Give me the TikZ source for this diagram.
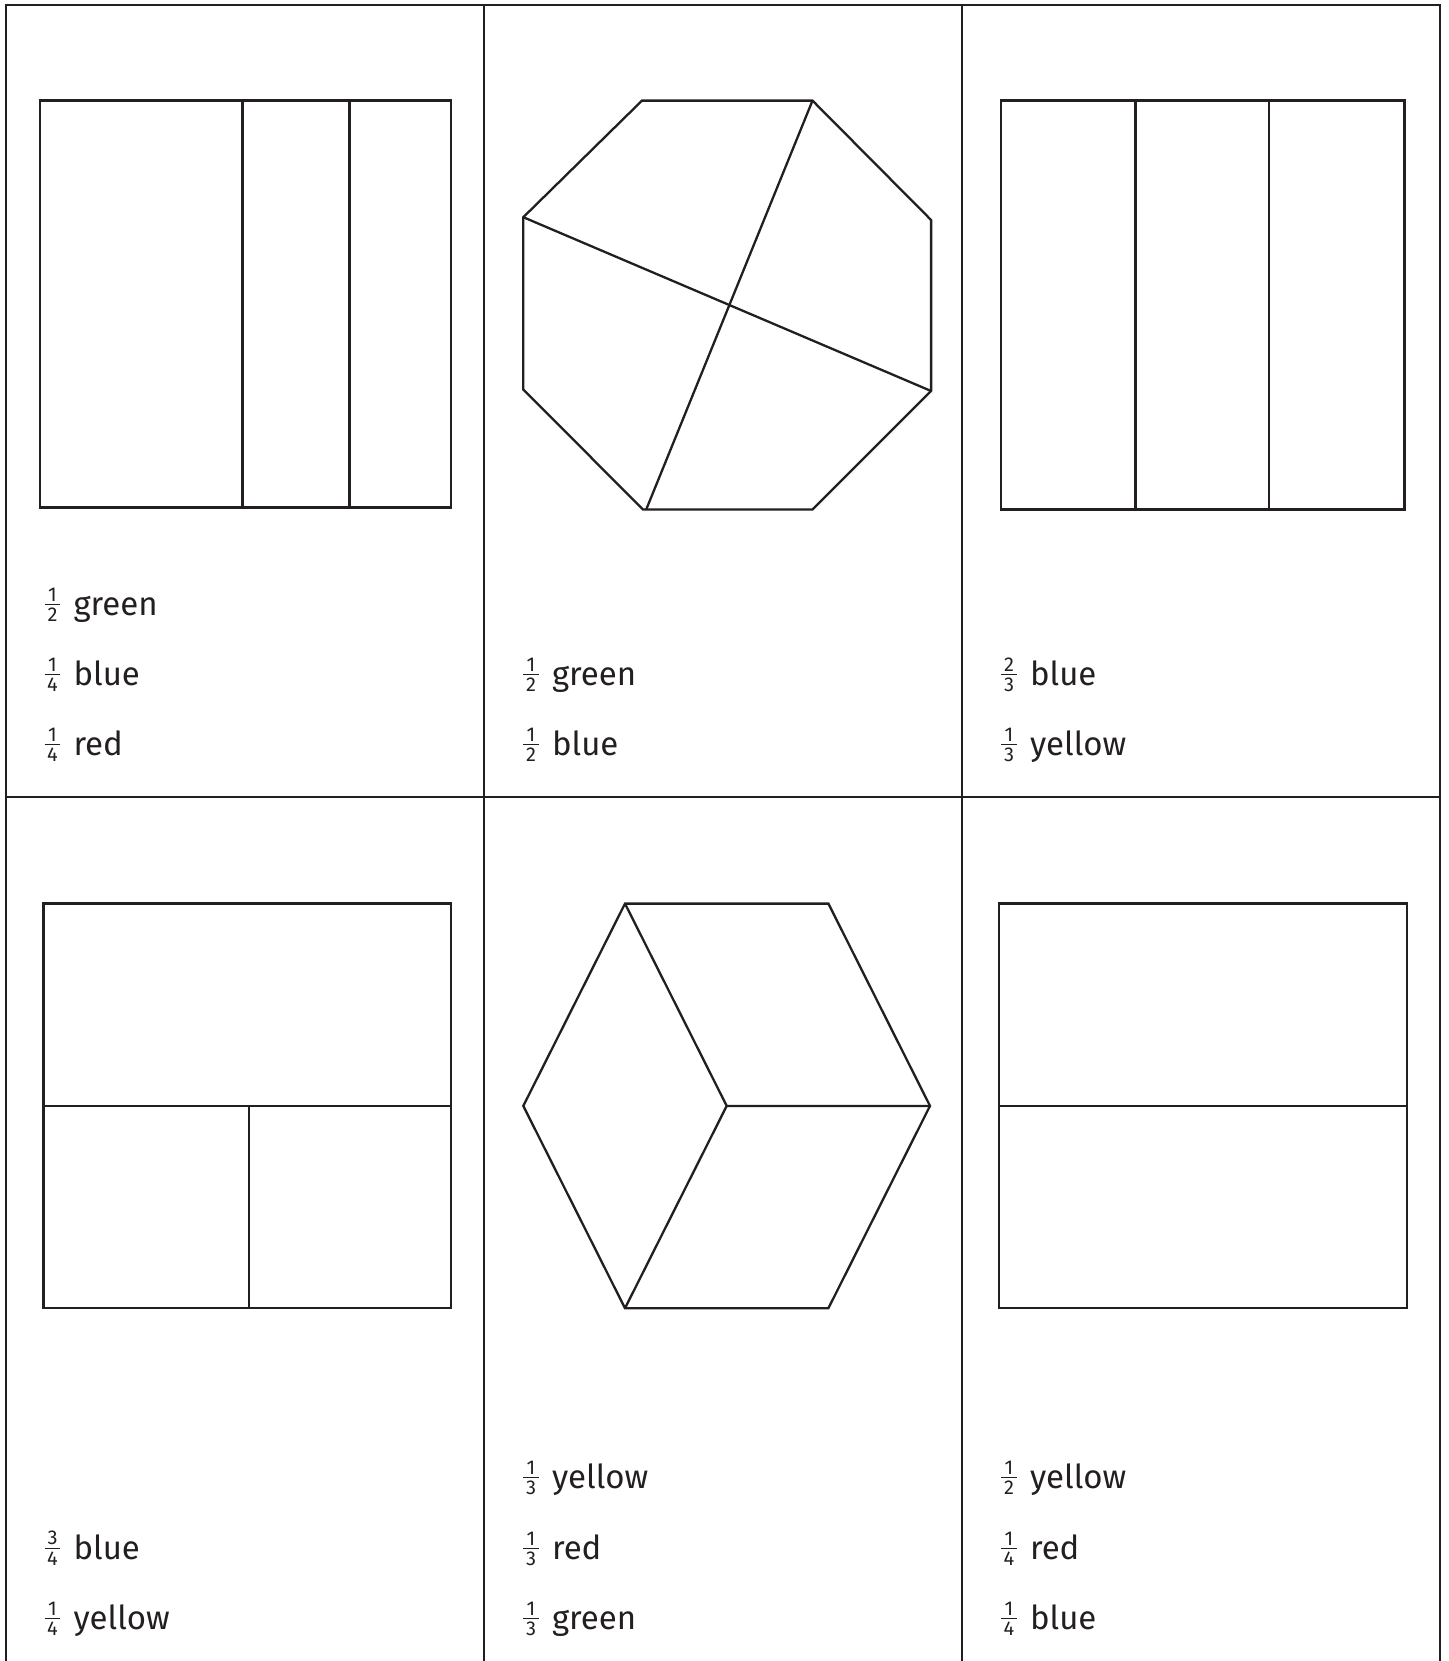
\documentclass[tikz,border=0pt]{standalone}
\usepackage{fontspec}
\setmainfont{Fira Sans}
\definecolor{ink}{RGB}{35,31,32}
\newcommand\fracpart[2]{\raisebox{-3.3pt}{\vbox{\offinterlineskip\fontsize{10}{10}\selectfont
 \hbox to 8pt{\hss#1\hss}\kern1.3pt\hrule height 0.9pt\kern1.3pt\hbox to 8pt{\hss#2\hss}}}}
\newcommand\lbl[3]{\fracpart{#1}{#2}\hspace{6.5pt}#3}
\begin{document}
\begin{tikzpicture}[x=0.5pt,y=-0.5pt,
  gridline/.style={draw=ink,line width=1pt},
  outl/.style={draw=ink,line width=1.15pt,line join=miter},
  txt/.style={anchor=base west,inner sep=0pt,outer sep=0pt,text=ink,font=\fontsize{16.5}{18}\selectfont}]
\useasboundingbox (0,0) rectangle (1448,1661);
% grid
\draw[gridline] (6,1661) -- (6,5) -- (1440,5) -- (1440,1661);
\draw[gridline] (484,5) -- (484,1661);
\draw[gridline] (962,5) -- (962,1661);
\draw[gridline] (6,796.7) -- (1440,796.7);
% panel 1
\draw[outl] (40.3,100.6) rectangle (451.3,507.4);
\draw[outl] (242.6,100.6) -- (242.6,507.4);
\draw[outl] (349.6,100.6) -- (349.6,507.4);
% panel 2 octagon
\draw[outl] (642,100.6) -- (812.5,100.6) -- (931.1,220) -- (931.1,391) -- (812.5,509.5) -- (643,509.5) -- (523.3,389.5) -- (523.3,217.2) -- cycle;
\draw[outl] (812.5,100.6) -- (646.2,509.5);
\draw[outl] (523.3,217.2) -- (931.1,391);
% panel 3
\draw[outl] (1001,100.6) rectangle (1404.6,509.5);
\draw[outl] (1135.6,100.6) -- (1135.6,509.5);
\draw[outl] (1269,100.6) -- (1269,509.5);
% panel 4
\draw[outl] (43.4,903.6) rectangle (451.3,1308.2);
\draw[outl] (43.4,1105.9) -- (451.3,1105.9);
\draw[outl] (249,1105.9) -- (249,1308.2);
% panel 5 hexagon (cube)
\coordinate (hc) at (726.7,1105.9);
\draw[outl] (625,903.6) -- (828.4,903.6) -- (930,1105.9) -- (828.4,1308.2) -- (625,1308.2) -- (523.3,1105.9) -- cycle;
\draw[outl] (625,903.6) -- (hc) -- (930,1105.9);
\draw[outl] (hc) -- (625,1308.2);
% panel 6
\draw[outl] (999,903.6) rectangle (1406.8,1308.2);
\draw[outl] (999,1105.9) -- (1406.8,1105.9);
% labels
\node[txt] (a1) at (44.5,615) {\lbl{1}{2}{green}};
\node[txt] (a2) at (44.5,685) {\lbl{1}{4}{blue}};
\node[txt] (a3) at (44.5,755) {\lbl{1}{4}{red}};
\node[txt] (b1) at (523,685) {\lbl{1}{2}{green}};
\node[txt] (b2) at (523,755) {\lbl{1}{2}{blue}};
\node[txt] (c1) at (1001,685) {\lbl{2}{3}{blue}};
\node[txt] (c2) at (1001,755) {\lbl{1}{3}{yellow}};
\node[txt] (d1) at (44.5,1559) {\lbl{3}{4}{blue}};
\node[txt] (d2) at (44.5,1629) {\lbl{1}{4}{yellow}};
\node[txt] (e1) at (523,1488) {\lbl{1}{3}{yellow}};
\node[txt] (e2) at (523,1559) {\lbl{1}{3}{red}};
\node[txt] (e3) at (523,1629) {\lbl{1}{3}{green}};
\node[txt] (f1) at (1001,1488) {\lbl{1}{2}{yellow}};
\node[txt] (f2) at (1001,1559) {\lbl{1}{4}{red}};
\node[txt] (f3) at (1001,1629) {\lbl{1}{4}{blue}};
\end{tikzpicture}
\end{document}
